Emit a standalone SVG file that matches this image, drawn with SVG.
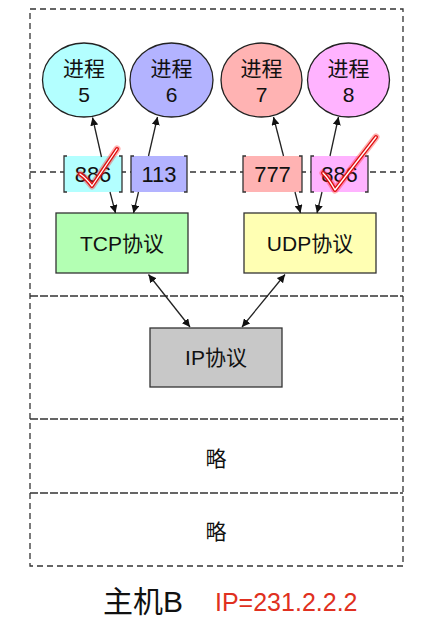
<svg xmlns="http://www.w3.org/2000/svg" width="446" height="624" viewBox="0 0 446 624">
<style>
text{font-family:"Liberation Sans","Noto Sans CJK SC",sans-serif;fill:#111;text-anchor:middle}
.frame{fill:none;stroke:#333;stroke-width:1.3;stroke-dasharray:6,4}
.layer{fill:none;stroke:#333;stroke-width:1.3;stroke-dasharray:8,2}
.proc{stroke:#222;stroke-width:1.3}
.box{stroke:#333;stroke-width:1.3}
.br{fill:none;stroke:#333;stroke-width:1.3}
.arr{fill:none;stroke:#222;stroke-width:1.3;marker-end:url(#ah)}
.arr2{fill:none;stroke:#222;stroke-width:1.3;marker-end:url(#ah);marker-start:url(#as)}
.chkglow{fill:none;stroke:#ff2020;stroke-width:7;stroke-opacity:0.35;stroke-linecap:round;stroke-linejoin:round}
.chk{fill:none;stroke:#e01010;stroke-width:4;stroke-linecap:round;stroke-linejoin:round}
.chkin{fill:none;stroke:#fff;stroke-width:1.3;stroke-linecap:round;stroke-linejoin:round}
</style>
<defs>
<marker id="ah" viewBox="0 0 10 10" refX="10" refY="5" markerWidth="8" markerHeight="8" markerUnits="userSpaceOnUse" orient="auto"><path d="M0,0 L10,5 L0,10 z" fill="#111"/></marker>
<marker id="as" viewBox="0 0 10 10" refX="0" refY="5" markerWidth="8" markerHeight="8" markerUnits="userSpaceOnUse" orient="auto"><path d="M10,0 L0,5 L10,10 z" fill="#111"/></marker>
</defs>

<g id="frame">
<rect class="frame" x="30" y="9" width="373" height="557"/>
<line class="frame" x1="30" y1="172" x2="403" y2="172"/>
<line class="layer" x1="30" y1="296" x2="403" y2="296"/>
<line class="layer" x1="30" y1="419" x2="403" y2="419"/>
<line class="layer" x1="30" y1="493" x2="403" y2="493"/>
</g>

<g id="p5"><ellipse class="proc" cx="84" cy="80" rx="41.5" ry="37" fill="#b3ffff"/><text x="84" y="76" font-size="21">进程</text><text x="84" y="102" font-size="21">5</text></g>
<g id="p6"><ellipse class="proc" cx="171.5" cy="80" rx="41.5" ry="37" fill="#b3b3ff"/><text x="171.5" y="76" font-size="21">进程</text><text x="171.5" y="102" font-size="21">6</text></g>
<g id="p7"><ellipse class="proc" cx="261.5" cy="80" rx="40.5" ry="37" fill="#ffb3b3"/><text x="261.5" y="76" font-size="21">进程</text><text x="261.5" y="102" font-size="21">7</text></g>
<g id="p8"><ellipse class="proc" cx="348.5" cy="80" rx="41" ry="37" fill="#ffb3ff"/><text x="348.5" y="76" font-size="21">进程</text><text x="348.5" y="102" font-size="21">8</text></g>

<g id="port886a"><rect x="64" y="156" width="58" height="36" fill="#b3ffff"/><path class="br" d="M67,156 H64 V192 H67 M119,156 H122 V192 H119"/><text x="93" y="182" font-size="22">886</text></g>
<g id="port113"><rect x="131" y="156" width="56" height="36" fill="#b3b3ff"/><path class="br" d="M134,156 H131 V192 H134 M184,156 H187 V192 H184"/><text x="159" y="182" font-size="22">113</text></g>
<g id="port777"><rect x="243" y="156" width="59" height="36" fill="#ffb3b3"/><path class="br" d="M246,156 H243 V192 H246 M299,156 H302 V192 H299"/><text x="272.5" y="182" font-size="22">777</text></g>
<g id="port886b"><rect x="311" y="156" width="57" height="36" fill="#ffb3ff"/><path class="br" d="M314,156 H311 V192 H314 M365,156 H368 V192 H365"/><text x="339.5" y="182" font-size="22">886</text></g>

<g id="tcp"><rect class="box" x="56" y="213" width="132" height="60" fill="#b3ffb3"/><text x="122" y="251" font-size="21">TCP协议</text></g>
<g id="udp"><rect class="box" x="244" y="213" width="132" height="60" fill="#ffffb3"/><text x="310" y="251" font-size="21">UDP协议</text></g>
<g id="ip"><rect class="box" x="150" y="328" width="132" height="59" fill="#c8c8c8"/><text x="216" y="365" font-size="21">IP协议</text></g>

<g id="skip1"><text x="216" y="466" font-size="21">略</text></g>
<g id="skip2"><text x="216" y="539" font-size="21">略</text></g>

<g id="connectors">
<line class="arr" x1="101.5" y1="157" x2="92.5" y2="117.5"/>
<line class="arr" x1="148.5" y1="156" x2="157.5" y2="117"/>
<line class="arr" x1="283.5" y1="156" x2="273.5" y2="117"/>
<line class="arr" x1="330" y1="156" x2="338.5" y2="117"/>
<line class="arr" x1="110" y1="192" x2="115.5" y2="213"/>
<line class="arr" x1="138.5" y1="192" x2="133.5" y2="213"/>
<line class="arr" x1="295" y1="192" x2="300.5" y2="213"/>
<line class="arr" x1="322" y1="192" x2="317" y2="213"/>
<line class="arr2" x1="148.5" y1="274.5" x2="190" y2="327"/>
<line class="arr2" x1="285" y1="274.5" x2="242" y2="327"/>
</g>

<g id="checks">
<path class="chkglow" d="M80,174 Q86,178 92,186 L117,149"/>
<path class="chk" d="M80,174 Q86,178 92,186 L117,149"/>
<path class="chkin" d="M80,174 Q86,178 92,186 L117,149"/>
<path class="chkglow" d="M323,173 Q329,179 335,190 L376,137"/>
<path class="chk" d="M323,173 Q329,179 335,190 L376,137"/>
<path class="chkin" d="M323,173 Q329,179 335,190 L376,137"/>
</g>

<g id="footer">
<text x="103" y="612" font-size="30" style="text-anchor:start">主机B</text>
<text x="215" y="611" font-size="25" style="fill:#e03020;text-anchor:start">IP=231.2.2.2</text>
</g>
</svg>
